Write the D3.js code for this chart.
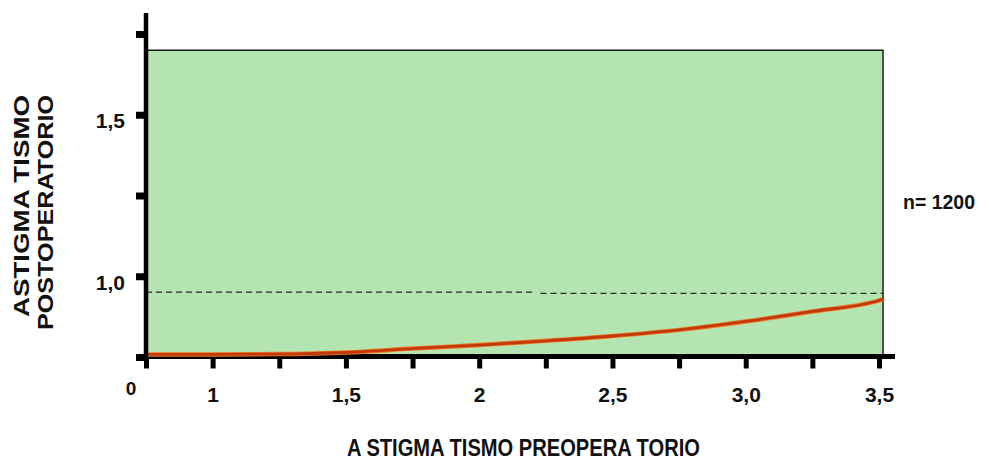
<!DOCTYPE html>
<html>
<head>
<meta charset="utf-8">
<script src="https://cdn.jsdelivr.net/npm/d3@7"></script>
<style>
  html, body { margin: 0; padding: 0; background: #ffffff; }
  svg { display: block; }
  text { font-family: "Liberation Sans", Arial, sans-serif; font-weight: bold; fill: #111; }
</style>
</head>
<body>
<svg id="chart" width="989" height="461"></svg>
<script>
// ---- data ----
const xTicks = [0.75, 1, 1.25, 1.5, 1.75, 2, 2.25, 2.5, 2.75, 3, 3.25, 3.5];
const xTickLabels = ["", "1", "", "1,5", "", "2", "", "2,5", "", "3,0", "", "3,5"];
const originLabel = "0";
const yTicks = [0.75, 1, 1.25, 1.5, 1.75];
const yTickLabels = ["", "1,0", "", "1,5", ""];
const curveX = [0.75, 1, 1.25, 1.5, 1.75, 2, 2.25, 2.5, 2.75, 3, 3.25, 3.5, 3.515];
const curveY = [0.758, 0.758, 0.759, 0.764, 0.776, 0.787, 0.800, 0.815, 0.834, 0.860, 0.891, 0.925, 0.929];
const refLineX = [[0.75, 2.21], [2.23, 3.515]];
const refLineY = [0.951, 0.947];
const zoneX = [0.75, 3.515];
const zoneY = [0.75, 1.70];
const xTitle = "A STIGMA TISMO PREOPERA TORIO";
const yTitle = ["ASTIGMA TISMO", "POSTOPERATORIO"];
const note = "n= 1200";

const svg = d3.select("#chart");
const x = d3.scaleLinear().domain([0.75, 3.5]).range([146, 879]);
const y = d3.scaleLinear().domain([0.75, 1.75]).range([357, 34]);

// green zone
svg.append("rect")
  .attr("x", x(zoneX[0])).attr("y", y(zoneY[1]))
  .attr("width", x(zoneX[1]) - x(zoneX[0]))
  .attr("height", y(zoneY[0]) - y(zoneY[1]))
  .attr("fill", "#b4e5b0");
svg.append("path")
  .attr("d", `M${x(zoneX[0])},${y(zoneY[1])}H${x(zoneX[1])}V${y(zoneY[0])}`)
  .attr("fill", "none").attr("stroke", "#1a1a1a").attr("stroke-width", 1.5);

// dashed reference line
refLineX.forEach((seg, i) => {
  svg.append("line")
    .attr("x1", x(seg[0])).attr("x2", x(seg[1]))
    .attr("y1", y(refLineY[i])).attr("y2", y(refLineY[i]))
    .attr("stroke", "#2a2a2a").attr("stroke-width", 1.3)
    .attr("stroke-dasharray", "6,4");
});

// x axis
const xAxis = d3.axisBottom(x).tickValues(xTicks).tickSize(12)
  .tickFormat((d, i) => xTickLabels[i]);
const gx = svg.append("g").attr("transform", `translate(0,${y(0.75) - 0.5})`).call(xAxis);
gx.select(".domain").remove();
gx.selectAll(".tick line").attr("stroke", "#000").attr("stroke-width", 5);
gx.selectAll(".tick text").attr("y", 45.5).attr("dy", 0)
  .style("font-size", "21px").style("font-family", "'Liberation Sans', Arial, sans-serif")
  .style("font-weight", "bold").attr("fill", "#111");
svg.append("line").attr("x1", 137).attr("x2", 895)
  .attr("y1", y(0.75) - 0.5).attr("y2", y(0.75) - 0.5)
  .attr("stroke", "#000").attr("stroke-width", 5);
svg.append("text").attr("x", 131).attr("y", 395).attr("text-anchor", "middle")
  .style("font-size", "19px").text(originLabel);

// y axis
const yAxis = d3.axisLeft(y).tickValues(yTicks).tickSize(10)
  .tickFormat((d, i) => yTickLabels[i]);
const gy = svg.append("g").attr("transform", `translate(${x(0.75)},0)`).call(yAxis);
gy.select(".domain").remove();
gy.selectAll(".tick line").attr("stroke", "#000").attr("stroke-width", 7);
gy.selectAll(".tick text").attr("x", -21).attr("dy", 13)
  .style("font-size", "21px").style("font-family", "'Liberation Sans', Arial, sans-serif")
  .style("font-weight", "bold").attr("fill", "#111");

// curve (drawn over the axis line, as in the original)
const pts = curveX.map((d, i) => [d, curveY[i]]);
const line = d3.line().x(d => x(d[0])).y(d => y(d[1])).curve(d3.curveMonotoneX);
svg.append("path").datum(pts).attr("d", line)
  .attr("fill", "none").attr("stroke", "#ef7a22").attr("stroke-width", 4.5);
svg.append("path").datum(pts).attr("d", line)
  .attr("fill", "none").attr("stroke", "#c23a0c").attr("stroke-width", 2.8);

svg.append("line").attr("x1", x(0.75)).attr("x2", x(0.75))
  .attr("y1", 13).attr("y2", 359)
  .attr("stroke", "#000").attr("stroke-width", 4.5);

// titles
svg.append("text").attr("x", 347).attr("y", 456)
  .attr("textLength", 353).attr("lengthAdjust", "spacingAndGlyphs")
  .style("font-size", "23px").text(xTitle);
const yStart = [317, 330], yLen = [222, 235], yBase = [29, 53];
yTitle.forEach((t, i) => {
  svg.append("text")
    .attr("transform", `translate(${yBase[i]},${yStart[i]}) rotate(-90)`)
    .attr("textLength", yLen[i]).attr("lengthAdjust", "spacingAndGlyphs")
    .style("font-size", "22px").text(t);
});
svg.append("text").attr("x", 903).attr("y", 209)
  .attr("textLength", 72).attr("lengthAdjust", "spacingAndGlyphs")
  .style("font-size", "21px").text(note);
</script>
</body>
</html>
